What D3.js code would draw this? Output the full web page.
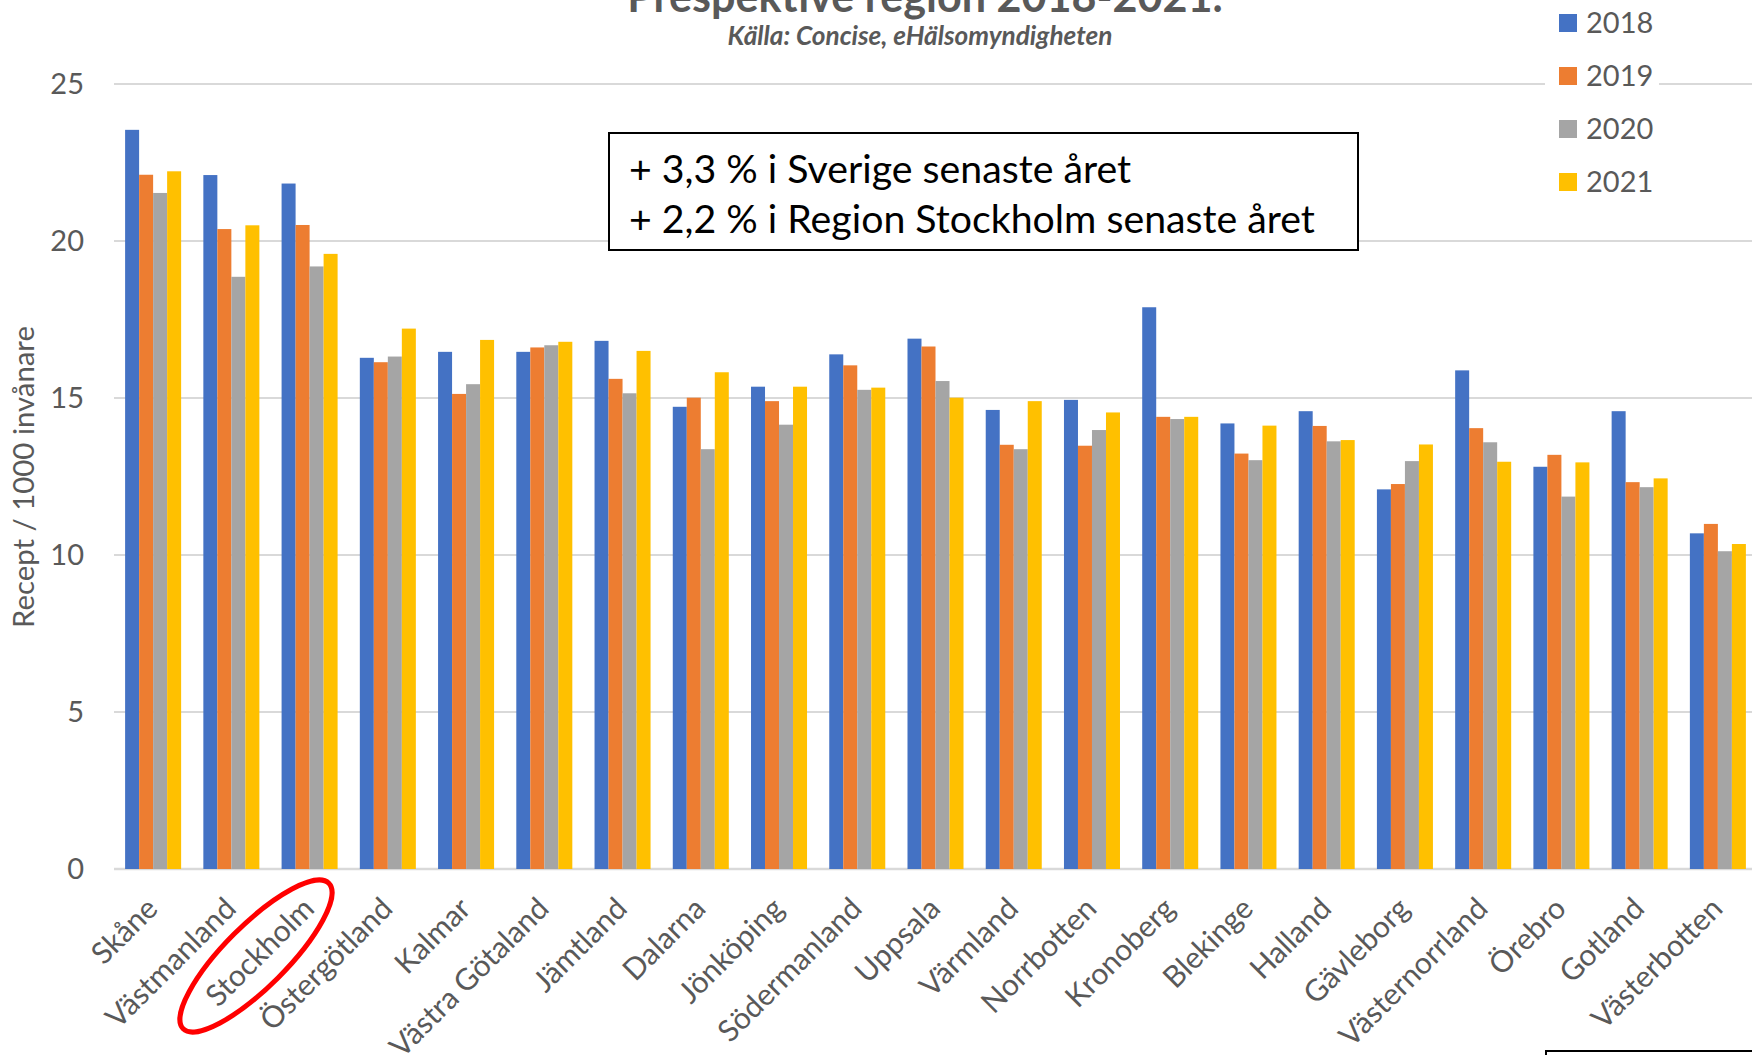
<!DOCTYPE html>
<html>
<head>
<meta charset="utf-8">
<script src="https://cdn.jsdelivr.net/npm/d3@7"></script>
<style>
  body { margin: 0; background: #fff; }
  svg { display: block; font-family: Lato, "Open Sans", sans-serif; }
</style>
</head>
<body>
<svg width="1752" height="1055"></svg>
<script>
var regions = ["Skåne", "Västmanland", "Stockholm", "Östergötland", "Kalmar", "Västra Götaland",
  "Jämtland", "Dalarna", "Jönköping", "Södermanland", "Uppsala", "Värmland", "Norrbotten",
  "Kronoberg", "Blekinge", "Halland", "Gävleborg", "Västernorrland", "Örebro", "Gotland", "Västerbotten"];
var years = ["2018", "2019", "2020", "2021"];
var v2018 = [23.54, 22.1, 21.83, 16.28, 16.47, 16.47, 16.82, 14.72, 15.36, 16.39, 16.89, 14.62, 14.94, 17.89, 14.19, 14.58, 12.09, 15.88, 12.81, 14.58, 10.69];
var v2019 = [22.11, 20.38, 20.51, 16.14, 15.13, 16.61, 15.61, 15.01, 14.9, 16.04, 16.64, 13.51, 13.48, 14.4, 13.23, 14.11, 12.26, 14.04, 13.19, 12.32, 10.99];
var v2020 = [21.53, 18.86, 19.19, 16.32, 15.44, 16.68, 15.15, 13.37, 14.15, 15.26, 15.54, 13.37, 13.98, 14.33, 13.02, 13.62, 12.99, 13.59, 11.86, 12.16, 10.12];
var v2021 = [22.22, 20.5, 19.59, 17.21, 16.85, 16.79, 16.5, 15.82, 15.36, 15.33, 15.01, 14.9, 14.54, 14.4, 14.12, 13.66, 13.52, 12.97, 12.95, 12.44, 10.35];
var yTicks = [0, 5, 10, 15, 20, 25];
var colors = ["#4472C4", "#ED7D31", "#A5A5A5", "#FFC000"];

var series = [v2018, v2019, v2020, v2021];
var svg = d3.select("svg");
var textColor = "#595959";

// scales
var x0 = d3.scaleBand().domain(regions).range([114, 1757]).paddingInner(0.284).paddingOuter(0.142);
var x1 = d3.scaleBand().domain(years).range([0, x0.bandwidth()]);
var y = d3.scaleLinear().domain([0, 25]).range([869, 84]);
var color = d3.scaleOrdinal().domain(years).range(colors);

// scale font so a text gets a given width
function fitWidth(sel, target) {
  var size = parseFloat(sel.attr("font-size"));
  var w = sel.node().getComputedTextLength();
  sel.attr("font-size", size * target / w);
}

// gridlines
svg.append("g")
  .selectAll("line")
  .data(yTicks)
  .enter()
  .append("line")
  .attr("x1", 114)
  .attr("x2", 1757)
  .attr("y1", function (d) { return y(d); })
  .attr("y2", function (d) { return y(d); })
  .style("stroke", "#d9d9d9")
  .style("stroke-width", function (d) { return d === 0 ? 2.5 : 1.8; });

// y axis labels
var yAxis = svg.append("g")
  .attr("transform", "translate(84,0)")
  .call(d3.axisLeft(y).tickValues(yTicks).tickSize(0).tickPadding(0));
yAxis.select(".domain").remove();
yAxis.selectAll("text")
  .attr("font-family", "Lato, sans-serif")
  .attr("font-size", 29)
  .attr("fill", textColor);

var yTitle = svg.append("text")
  .attr("transform", "translate(34,477) rotate(-90)")
  .attr("text-anchor", "middle")
  .attr("font-size", 26)
  .attr("fill", textColor)
  .text("Recept / 1000 invånare");
fitWidth(yTitle, 302);

// bars
var groups = svg.append("g")
  .selectAll("g")
  .data(regions)
  .enter()
  .append("g")
  .attr("transform", function (d) { return "translate(" + x0(d) + ",0)"; });

groups.selectAll("rect")
  .data(function (d, i) {
    return years.map(function (yr, j) { return { year: yr, value: series[j][i] }; });
  })
  .enter()
  .append("rect")
  .attr("x", function (d) { return x1(d.year); })
  .attr("y", function (d) { return y(d.value); })
  .attr("width", x1.bandwidth())
  .attr("height", function (d) { return y(0) - y(d.value); })
  .attr("fill", function (d) { return color(d.year); });

// x labels
svg.append("g")
  .selectAll("text")
  .data(regions)
  .enter()
  .append("text")
  .attr("transform", function (d) {
    return "translate(" + (x0(d) + x0.bandwidth() / 2 - 1) + ",903) rotate(-45)";
  })
  .attr("text-anchor", "end")
  .attr("dy", "0.35em")
  .attr("font-size", 30)
  .attr("fill", textColor)
  .text(function (d) { return d; });

// red ellipse round Stockholm
svg.append("ellipse")
  .attr("transform", "translate(256,956) rotate(-45)")
  .attr("rx", 103)
  .attr("ry", 31)
  .style("fill", "none")
  .style("stroke", "#ff0000")
  .style("stroke-width", 5);

// title (cut at top) and source
var title = svg.append("text")
  .attr("x", 925)
  .attr("y", 12)
  .attr("text-anchor", "middle")
  .attr("font-size", 40)
  .attr("font-weight", "bold")
  .attr("fill", textColor)
  .text("Prespektive region 2018-2021.");
fitWidth(title, 596);

var sub = svg.append("text")
  .attr("x", 920)
  .attr("y", 45)
  .attr("text-anchor", "middle")
  .attr("font-size", 21)
  .attr("font-weight", "bold")
  .attr("font-style", "italic")
  .attr("fill", textColor)
  .text("Källa: Concise, eHälsomyndigheten");
fitWidth(sub, 385);

// annotation box
svg.append("rect")
  .attr("x", 609)
  .attr("y", 133)
  .attr("width", 749)
  .attr("height", 117)
  .style("fill", "#fff")
  .style("stroke", "#000")
  .style("stroke-width", 2);

var notes = ["+ 3,3 % i Sverige senaste året", "+ 2,2 % i Region Stockholm senaste året"];
var noteText = svg.append("g")
  .selectAll("text")
  .data(notes)
  .enter()
  .append("text")
  .attr("x", 629)
  .attr("y", function (d, i) { return 183 + i * 50; })
  .attr("font-size", 34)
  .attr("fill", "#000")
  .text(function (d) { return d; });
var noteSize = 34 * 686 / noteText.nodes()[1].getComputedTextLength();
noteText.attr("font-size", noteSize);

// legend
svg.append("rect")
  .attr("x", 1545)
  .attr("y", 0)
  .attr("width", 114)
  .attr("height", 200)
  .style("fill", "#fff");

var legend = svg.append("g")
  .selectAll("g")
  .data(years)
  .enter()
  .append("g")
  .attr("transform", function (d, i) { return "translate(1559," + (14 + i * 53) + ")"; });
legend.append("rect")
  .attr("width", 18)
  .attr("height", 18)
  .attr("fill", function (d) { return color(d); });
legend.append("text")
  .attr("x", 27)
  .attr("y", 9)
  .attr("dy", "0.35em")
  .attr("font-size", 29)
  .attr("fill", textColor)
  .text(function (d) { return d; });

// edge of a text box cut off at bottom right
svg.append("rect")
  .attr("x", 1546)
  .attr("y", 1051)
  .attr("width", 300)
  .attr("height", 100)
  .style("fill", "#fff")
  .style("stroke", "#000")
  .style("stroke-width", 2);
</script>
</body>
</html>
